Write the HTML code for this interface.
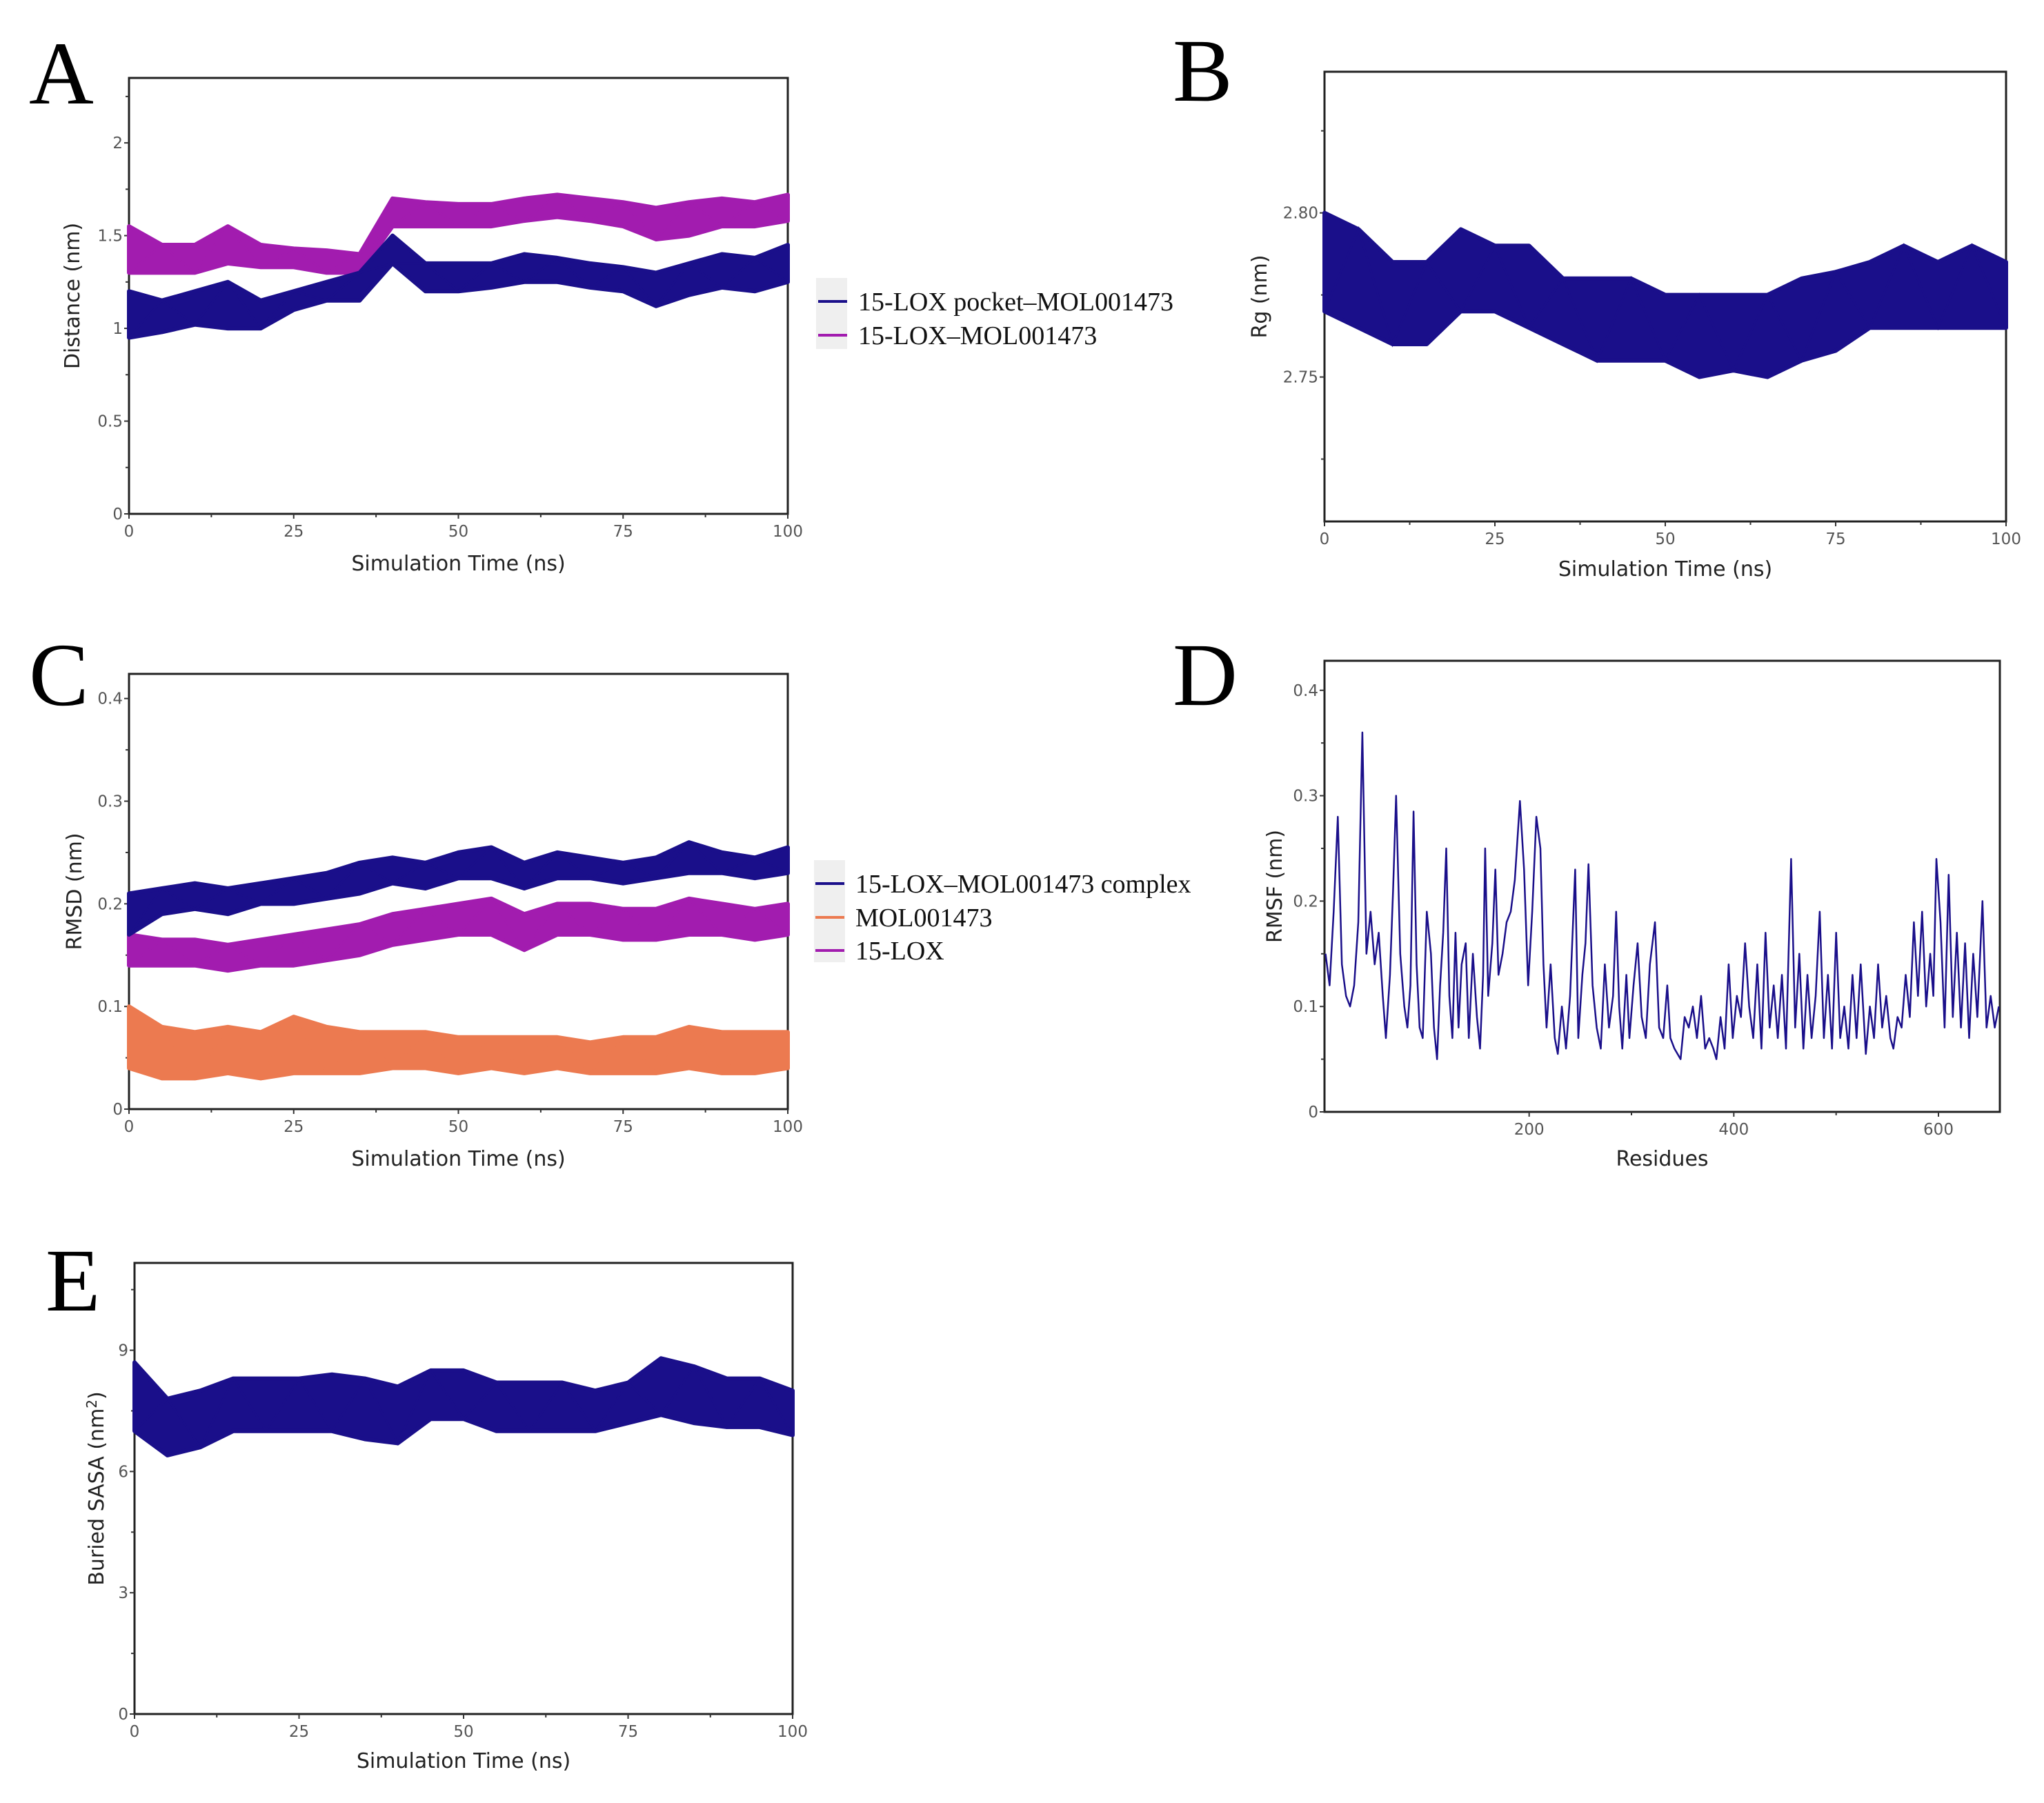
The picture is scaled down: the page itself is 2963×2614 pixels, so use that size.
<!DOCTYPE html>
<html><head><meta charset="utf-8"><style>
html,body{margin:0;padding:0;background:#fff;}
svg{display:block;}
.tk{font-family:"DejaVu Sans","Liberation Sans",sans-serif;font-size:23px;fill:#555;}
.ti{font-family:"DejaVu Sans","Liberation Sans",sans-serif;font-size:30px;fill:#222;}
.lt{font-family:"Liberation Serif",serif;font-size:130px;fill:#000;}
.lg{font-family:"Liberation Serif",serif;font-size:38px;fill:#111;}
</style></head><body>
<svg id="fig" width="2963" height="2614" viewBox="0 0 2963 2614" xmlns="http://www.w3.org/2000/svg">
<text class="lt" x="42" y="150">A</text>
<text class="lt" x="1700" y="146">B</text>
<text class="lt" x="42" y="1022">C</text>
<text class="lt" x="1700" y="1022">D</text>
<text class="lt" x="66" y="1900">E</text>
</svg>
<script>
const timeNs=[0,5,10,15,20,25,30,35,40,45,50,55,60,65,70,75,80,85,90,95,100];
const aPocketLo=[0.95,0.98,1.02,1.0,1.0,1.1,1.15,1.15,1.35,1.2,1.2,1.22,1.25,1.25,1.22,1.2,1.12,1.18,1.22,1.2,1.25];
const aPocketHi=[1.2,1.15,1.2,1.25,1.15,1.2,1.25,1.3,1.5,1.35,1.35,1.35,1.4,1.38,1.35,1.33,1.3,1.35,1.4,1.38,1.45];
const aLoxLo=[1.3,1.3,1.3,1.35,1.33,1.33,1.3,1.3,1.55,1.55,1.55,1.55,1.58,1.6,1.58,1.55,1.48,1.5,1.55,1.55,1.58];
const aLoxHi=[1.55,1.45,1.45,1.55,1.45,1.43,1.42,1.4,1.7,1.68,1.67,1.67,1.7,1.72,1.7,1.68,1.65,1.68,1.7,1.68,1.72];
const bRgLo=[2.77,2.765,2.76,2.76,2.77,2.77,2.765,2.76,2.755,2.755,2.755,2.75,2.752,2.75,2.755,2.758,2.765,2.765,2.765,2.765,2.765];
const bRgHi=[2.80,2.795,2.785,2.785,2.795,2.79,2.79,2.78,2.78,2.78,2.775,2.775,2.775,2.775,2.78,2.782,2.785,2.79,2.785,2.79,2.785];
const cComplexLo=[0.17,0.19,0.195,0.19,0.2,0.2,0.205,0.21,0.22,0.215,0.225,0.225,0.215,0.225,0.225,0.22,0.225,0.23,0.23,0.225,0.23];
const cComplexHi=[0.21,0.215,0.22,0.215,0.22,0.225,0.23,0.24,0.245,0.24,0.25,0.255,0.24,0.25,0.245,0.24,0.245,0.26,0.25,0.245,0.255];
const cLoxLo=[0.14,0.14,0.14,0.135,0.14,0.14,0.145,0.15,0.16,0.165,0.17,0.17,0.155,0.17,0.17,0.165,0.165,0.17,0.17,0.165,0.17];
const cLoxHi=[0.17,0.165,0.165,0.16,0.165,0.17,0.175,0.18,0.19,0.195,0.2,0.205,0.19,0.2,0.2,0.195,0.195,0.205,0.2,0.195,0.2];
const cMolLo=[0.04,0.03,0.03,0.035,0.03,0.035,0.035,0.035,0.04,0.04,0.035,0.04,0.035,0.04,0.035,0.035,0.035,0.04,0.035,0.035,0.04];
const cMolHi=[0.1,0.08,0.075,0.08,0.075,0.09,0.08,0.075,0.075,0.075,0.07,0.07,0.07,0.07,0.065,0.07,0.07,0.08,0.075,0.075,0.075];
const eSasaLo=[7.0,6.4,6.6,7.0,7.0,7.0,7.0,6.8,6.7,7.3,7.3,7.0,7.0,7.0,7.0,7.2,7.4,7.2,7.1,7.1,6.9];
const eSasaHi=[8.7,7.8,8.0,8.3,8.3,8.3,8.4,8.3,8.1,8.5,8.5,8.2,8.2,8.2,8.0,8.2,8.8,8.6,8.3,8.3,8.0];
const dResidues=[1,5,9,13,17,21,25,29,33,37,41,45,49,53,57,60,64,67,70,74,78,81,84,87,90,93,96,100,104,107,110,113,116,119,122,125,128,131,134,138,141,145,149,152,155,157,160,164,167,170,174,178,182,186,191,195,199,203,207,211,214,217,221,225,228,232,236,240,245,248,252,255,258,262,266,270,274,278,282,285,288,291,295,298,302,306,310,314,318,323,327,331,335,338,342,348,352,356,360,364,368,372,376,380,383,387,391,395,399,403,407,411,415,419,423,427,431,435,439,443,447,451,456,460,464,468,472,476,480,484,488,492,496,500,504,508,512,516,520,524,529,533,537,541,545,549,553,556,560,564,568,572,576,580,584,588,592,595,598,602,606,610,614,618,622,626,630,634,638,643,647,651,655,659];
const dRmsf=[0.15,0.12,0.19,0.28,0.14,0.11,0.10,0.12,0.18,0.36,0.15,0.19,0.14,0.17,0.11,0.07,0.13,0.21,0.30,0.15,0.10,0.08,0.12,0.285,0.14,0.08,0.07,0.19,0.15,0.08,0.05,0.12,0.17,0.25,0.11,0.07,0.17,0.08,0.14,0.16,0.07,0.15,0.09,0.06,0.13,0.25,0.11,0.16,0.23,0.13,0.15,0.18,0.19,0.22,0.295,0.23,0.12,0.19,0.28,0.25,0.14,0.08,0.14,0.07,0.055,0.10,0.06,0.11,0.23,0.07,0.13,0.16,0.235,0.12,0.08,0.06,0.14,0.08,0.11,0.19,0.10,0.06,0.13,0.07,0.12,0.16,0.09,0.07,0.14,0.18,0.08,0.07,0.12,0.07,0.06,0.05,0.09,0.08,0.10,0.07,0.11,0.06,0.07,0.06,0.05,0.09,0.06,0.14,0.07,0.11,0.09,0.16,0.10,0.07,0.14,0.06,0.17,0.08,0.12,0.07,0.13,0.06,0.24,0.08,0.15,0.06,0.13,0.07,0.11,0.19,0.07,0.13,0.06,0.17,0.07,0.10,0.06,0.13,0.07,0.14,0.055,0.10,0.07,0.14,0.08,0.11,0.07,0.06,0.09,0.08,0.13,0.09,0.18,0.11,0.19,0.10,0.15,0.11,0.24,0.18,0.08,0.225,0.09,0.17,0.08,0.16,0.07,0.15,0.09,0.20,0.08,0.11,0.08,0.10];
const timeTicks=[0,25,50,75,100];
const aTicks=[0,0.5,1,1.5,2];const aTickLabels=["0","0.5","1","1.5","2"];
const bTicks=[2.75,2.80];const bTickLabels=["2.75","2.80"];
const cTicks=[0,0.1,0.2,0.3,0.4];const cTickLabels=["0","0.1","0.2","0.3","0.4"];
const dTicks=[0,0.1,0.2,0.3,0.4];const dTickLabels=["0","0.1","0.2","0.3","0.4"];
const dXTicks=[200,400,600];
const eTicks=[0,3,6,9];const eTickLabels=["0","3","6","9"];

const NS='http://www.w3.org/2000/svg';
const svg=document.getElementById('fig');
function mk(tag,attrs,parent){const e=document.createElementNS(NS,tag);for(const k in attrs)e.setAttribute(k,attrs[k]);(parent||svg).appendChild(e);return e;}
function panel(p){
  const g=mk('g',{});
  
  
  const sx=v=>p.x0+(v-p.xmin)/(p.xmax-p.xmin)*(p.x1-p.x0);
  const sy=v=>p.y1-(v-p.ymin)/(p.ymax-p.ymin)*(p.y1-p.y0);
  p.sx=sx;p.sy=sy;p.g=g;
  const fr=mk('rect',{x:p.x0,y:p.y0,width:p.x1-p.x0,height:p.y1-p.y0,fill:'none',stroke:'#222','stroke-width':3},g);
  
  
  p.xt.forEach((v,i)=>{
    const x=sx(v);
    mk('line',{x1:x,x2:x,y1:p.y1,y2:p.y1+7,stroke:'#333','stroke-width':2},g);
    const t=mk('text',{x:x,y:p.y1+33,'text-anchor':'middle',class:'tk'},g);t.textContent=String(v);
    
    
    if(i<p.xt.length-1){const m=sx((v+p.xt[i+1])/2);mk('line',{x1:m,x2:m,y1:p.y1,y2:p.y1+5,stroke:'#333','stroke-width':2},g);}
  });
  p.yt.forEach((v,i)=>{
    const y=sy(v);
    mk('line',{x1:p.x0-7,x2:p.x0,y1:y,y2:y,stroke:'#333','stroke-width':2},g);
    const t=mk('text',{x:p.x0-9,y:y+8,'text-anchor':'end',class:'tk'},g);t.textContent=p.yl[i];
    
    
    const step=p.yt.length>1?(p.yt[1]-p.yt[0]):0.05;
    const m=sy(v+step/2); if(m>p.y0) mk('line',{x1:p.x0-5,x2:p.x0,y1:m,y2:m,stroke:'#333','stroke-width':2},g);
    const m2=sy(v-step/2); if(i===0&&m2<p.y1) mk('line',{x1:p.x0-5,x2:p.x0,y1:m2,y2:m2,stroke:'#333','stroke-width':2},g);
  });
  const xt=mk('text',{x:(p.x0+p.x1)/2,y:p.xty,'text-anchor':'middle',class:'ti'},g);xt.textContent=p.xtitle;
  
  
  const yt=mk('text',{x:0,y:0,'text-anchor':'middle',class:'ti',transform:`translate(${p.ytx},${(p.y0+p.y1)/2}) rotate(-90)`},g);
  if(p.ytitleHtml){yt.innerHTML=p.ytitleHtml;}else yt.textContent=p.ytitle;
  
  
  return p;
}
function band(p,xs,lo,hi,color,name){
  let d='';
  xs.forEach((x,i)=>{d+=(i?'L':'M')+p.sx(x).toFixed(1)+','+p.sy(hi[i]).toFixed(1);});
  for(let i=xs.length-1;i>=0;i--) d+='L'+p.sx(xs[i]).toFixed(1)+','+p.sy(lo[i]).toFixed(1);
  d+='Z';
  const e=mk('path',{d:d,fill:color,stroke:color,'stroke-width':6,'stroke-linejoin':'round'},p.g);
  
  
  let z='';
  xs.forEach((x,i)=>{z+=(i?'L':'M')+p.sx(x).toFixed(1)+','+p.sy(i%2?hi[i]:lo[i]).toFixed(1);});
  const l=mk('path',{d:z,fill:'none',stroke:color,'stroke-width':3},p.g);
  
  
}
function legend(x,ys,colors,labels,bg){
  const g=mk('g',{});
  
  
  mk('rect',{x:bg[0],y:bg[1],width:bg[2],height:bg[3],fill:'#efefef'},g);
  ys.forEach((y,i)=>{
    mk('line',{x1:x,x2:x+42,y1:y,y2:y,stroke:colors[i],'stroke-width':4},g);
    const t=mk('text',{x:x+58,y:y+13,class:'lg'},g);t.textContent=labels[i];
    
    
  });
}
const NAVY='#1a0f8a',MAG='#a21caf',ORG='#ec7a50';
const A=panel({name:'panel-a-distance',x0:187,x1:1142,y0:113,y1:745,xmin:0,xmax:100,ymin:0,ymax:2.35,xt:timeTicks,yt:aTicks,yl:aTickLabels,xtitle:'Simulation Time (ns)',xty:827,ytitle:'Distance (nm)',ytx:115});
band(A,timeNs,aLoxLo,aLoxHi,MAG,'series-15lox-mol001473');
band(A,timeNs,aPocketLo,aPocketHi,NAVY,'series-pocket-mol001473');
legend(1186,[437,486],[NAVY,MAG],['15-LOX pocket\u2013MOL001473','15-LOX\u2013MOL001473'],[1183,403,45,103]);
const B=panel({name:'panel-b-rg',x0:1920,x1:2908,y0:104,y1:756,xmin:0,xmax:100,ymin:2.706,ymax:2.843,xt:timeTicks,yt:bTicks,yl:bTickLabels,xtitle:'Simulation Time (ns)',xty:835,ytitle:'Rg (nm)',ytx:1836});
band(B,timeNs,bRgLo,bRgHi,NAVY,'series-rg');
const C=panel({name:'panel-c-rmsd',x0:187,x1:1142,y0:977,y1:1608,xmin:0,xmax:100,ymin:0,ymax:0.424,xt:timeTicks,yt:cTicks,yl:cTickLabels,xtitle:'Simulation Time (ns)',xty:1690,ytitle:'RMSD (nm)',ytx:118});
band(C,timeNs,cMolLo,cMolHi,ORG,'series-mol001473');
band(C,timeNs,cLoxLo,cLoxHi,MAG,'series-15lox');
band(C,timeNs,cComplexLo,cComplexHi,NAVY,'series-complex');
legend(1182,[1281,1330,1378],[NAVY,ORG,MAG],['15-LOX\u2013MOL001473 complex','MOL001473','15-LOX'],[1180,1247,45,148]);
const D=panel({name:'panel-d-rmsf',x0:1920,x1:2899,y0:958,y1:1612,xmin:0,xmax:660,ymin:0,ymax:0.428,xt:dXTicks,yt:dTicks,yl:dTickLabels,xtitle:'Residues',xty:1690,ytitle:'RMSF (nm)',ytx:1858});
{let d='';dResidues.forEach((r,i)=>{d+=(i?'L':'M')+D.sx(r).toFixed(1)+','+D.sy(dRmsf[i]).toFixed(1);});
const l=mk('path',{d:d,fill:'none',stroke:NAVY,'stroke-width':2.5,'stroke-linejoin':'round'},D.g);

}
const E=panel({name:'panel-e-buried-sasa',x0:195,x1:1149,y0:1831,y1:2485,xmin:0,xmax:100,ymin:0,ymax:11.16,xt:timeTicks,yt:eTicks,yl:eTickLabels,xtitle:'Simulation Time (ns)',xty:2563,ytitleHtml:'Buried SASA (nm<tspan dy="-10" font-size="20">2</tspan><tspan dy="10">)</tspan>',ytx:150});
band(E,timeNs,eSasaLo,eSasaHi,NAVY,'series-buried-sasa');
</script>
</body></html>
